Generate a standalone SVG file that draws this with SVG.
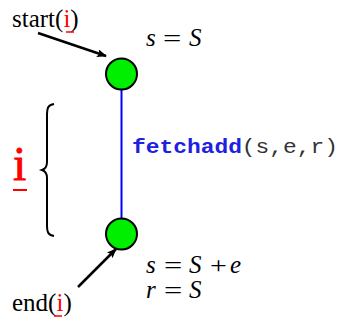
<svg xmlns="http://www.w3.org/2000/svg" width="339" height="320" viewBox="0 0 339 320">
<style>
.lbl{font-family:"Liberation Serif","Times New Roman",serif;font-size:25px;fill:#000}
.red{fill:#ff0000}
.math{font-family:"Liberation Serif","Times New Roman",serif;font-size:25px;fill:#000;font-style:italic}
.eq{font-family:"Liberation Serif","Times New Roman",serif;font-size:24px;fill:#000}
.node{fill:#00ee00;stroke:#000;stroke-width:2}
.ul{stroke:#ff0000;stroke-width:1.5}
</style>
<defs>
<marker id="ah" markerWidth="10" markerHeight="8" refX="9" refY="4" orient="auto" markerUnits="userSpaceOnUse" viewBox="0 0 10 8">
<path d="M0,0 L10,4 L0,8 L2,4 Z" fill="#000"/>
</marker>
</defs>
<rect width="339" height="320" fill="#fff"/>
<g id="connectors">
<line x1="121.5" y1="90" x2="121.5" y2="218" stroke="#0000ff" stroke-width="2"/>
<line x1="38" y1="33" x2="106" y2="56" stroke="#000" stroke-width="2.5" marker-end="url(#ah)"/>
<line x1="78" y1="287" x2="116" y2="249" stroke="#000" stroke-width="2.5" marker-end="url(#ah)"/>
</g>
<g id="start-node">
<circle class="node" cx="121.5" cy="74" r="15.5"/>
</g>
<g id="end-node">
<circle class="node" cx="121.5" cy="234" r="15.5"/>
</g>
<g id="start-label">
<text class="lbl" x="12" y="27">start(<tspan class="red">i</tspan>)</text>
<line class="ul" x1="66" y1="32" x2="74" y2="32"/>
</g>
<g id="end-label">
<text class="lbl" x="12" y="311">end(<tspan class="red">i</tspan>)</text>
<line class="ul" x1="54" y1="316" x2="62" y2="316"/>
</g>
<g id="interval">
<text x="13" y="180" font-family="Liberation Serif,serif" font-size="48" fill="#ff0000" stroke="#ff0000" stroke-width="0.8">i</text>
<line x1="13" y1="190" x2="27" y2="190" stroke="#ff0000" stroke-width="2"/>
<path d="M54,104 C48,105 47,108 47,114 L47,162 C47,167 45,169 42,170 C45,171 47,173 47,178 L47,226 C47,232 48,235 54,236" fill="none" stroke="#000" stroke-width="2"/>
</g>
<g id="op-label">
<text x="132" y="153" font-family="Liberation Mono,Courier New,monospace" font-size="21" textLength="206" lengthAdjust="spacingAndGlyphs"><tspan fill="#2020e0" font-weight="bold">fetchadd</tspan><tspan fill="#333">(s,e,r)</tspan></text>
</g>
<g id="pre-state">
<text class="math" x="146" y="46">s</text>
<text class="eq" transform="translate(163,46) scale(1.35,1)">=</text>
<text class="math" x="189" y="46">S</text>
</g>
<g id="post-state">
<text class="math" x="146" y="273">s</text>
<text class="eq" transform="translate(164,273) scale(1.35,1)">=</text>
<text class="math" x="189" y="273">S</text>
<text class="eq" transform="translate(210,273) scale(1.25,1)">+</text>
<text class="math" x="230" y="273">e</text>
<text class="math" x="146" y="298">r</text>
<text class="eq" transform="translate(164,298) scale(1.35,1)">=</text>
<text class="math" x="189" y="298">S</text>
</g>
</svg>
